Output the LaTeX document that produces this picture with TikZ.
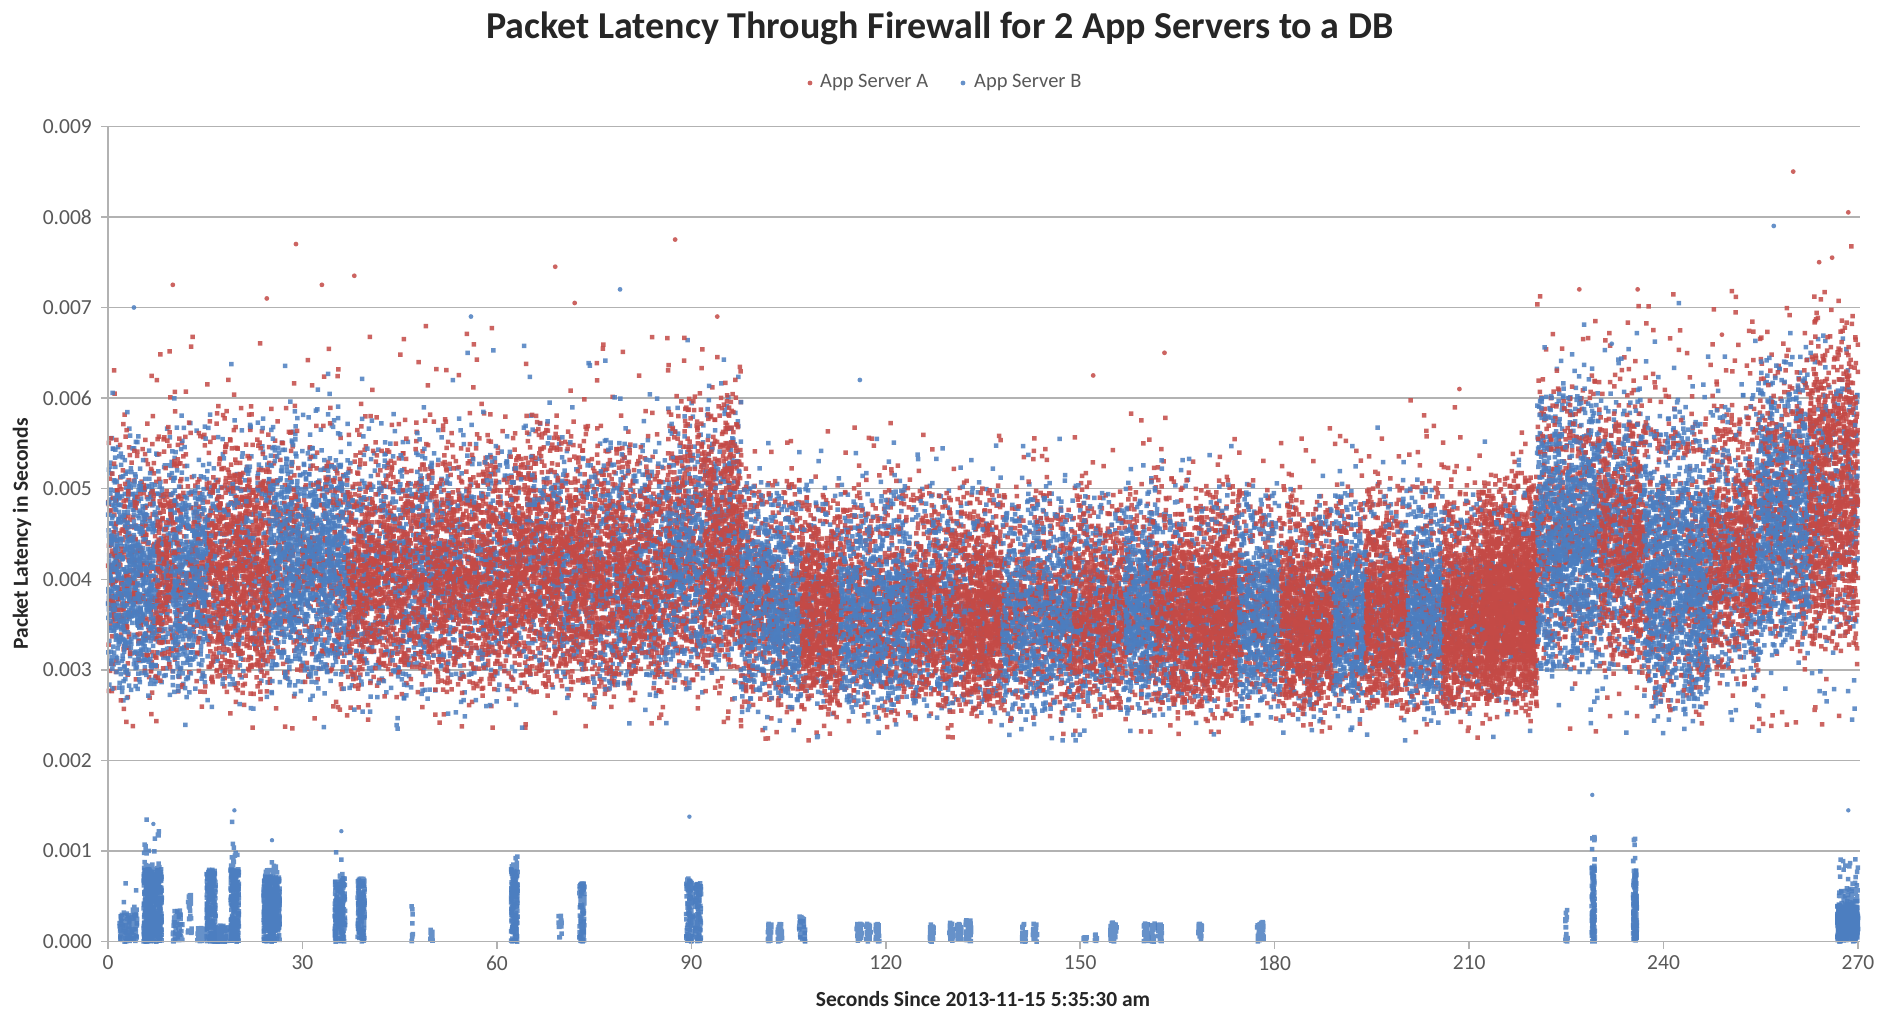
\documentclass[tikz,border=0pt]{standalone}
\usepackage{fontspec}
\setmainfont{Carlito}
\definecolor{sA}{RGB}{196,74,70}
\definecolor{sB}{RGB}{76,126,192}
\definecolor{gridc}{RGB}{178,178,178}
\definecolor{txt}{RGB}{89,89,89}
\makeatletter
\newdimen\SGx \newdimen\SGw \newdimen\SGy \newdimen\SGh
\newdimen\Px \newdimen\Py \newdimen\dotd
\newcount\SGn \newcount\SGb \newcount\SGm
\dotd=4.5pt
% \cloud{color}{t0}{t1}{vlo}{vhi}{count}{mode: 1 bell, 2 uniform, 3 decreasing, 4 triangular}
\def\cloud#1#2#3#4#5#6#7{%
  \pgfmathsetlength\SGx{108+6.4815*(#2)-2.25}%
  \pgfmathsetlength\SGw{6.4815*((#3)-(#2))}%
  \pgfmathsetlength\SGy{71.3+90.6*(#4)-2.25}%
  \pgfmathsetlength\SGh{90.6*((#5)-(#4))}%
  \SGm=#7\relax
  \begin{pgfscope}\pgfsetfillcolor{#1}\pgfsetfillopacity{0.85}%
  \SGn=#6\relax \SGb=0
  \loop\ifnum\SGn>0
    \pgfmathrnd\relax \Px=\pgfmathresult\SGw \advance\Px\SGx
    \pgfmathrnd\relax \Py=\pgfmathresult\SGh
    \ifcase\SGm\or
      \pgfmathrnd\relax \advance\Py\pgfmathresult\SGh
      \pgfmathrnd\relax \advance\Py\pgfmathresult\SGh
      \divide\Py 3
    \or
    \or
      \pgfmathrnd\relax \Py=\pgfmathresult\Py
    \or
      \pgfmathrnd\relax \advance\Py\pgfmathresult\SGh
      \divide\Py 2
    \fi
    \advance\Py\SGy
    \pgfpathrectangle{\pgfqpoint{\Px}{\Py}}{\pgfqpoint{\dotd}{\dotd}}%
    \advance\SGb1
    \ifnum\SGb>40 \pgfusepath{fill}\SGb=0 \fi
    \advance\SGn-1
  \repeat
  \ifnum\SGb>0 \pgfusepath{fill}\fi
  \end{pgfscope}}
% core = two overlapping triangular bands (soft edges)
\def\mixcore#1#2#3#4#5#6{%
  \cloud{#1}{#2}{#3}{#4+0.15}{#5-0.5}{\numexpr(#6)*2/5\relax}{4}%
  \cloud{#1}{#2}{#3}{#4}{#5+0.15}{\numexpr(#6)*2/5\relax}{4}}
\def\mix#1#2#3#4#5#6{%
  \mixcore{sB}{#1}{#2}{#3}{#4}{#6}\mixcore{sA}{#1}{#2}{#3}{#4}{#5}%
  \mixcore{sB}{#1}{#2}{#3}{#4}{#6}\mixcore{sA}{#1}{#2}{#3}{#4}{#5}}
\def\mixb#1#2#3#4#5#6{%
  \mixcore{sA}{#1}{#2}{#3}{#4}{#5}\mixcore{sB}{#1}{#2}{#3}{#4}{#6}%
  \mixcore{sA}{#1}{#2}{#3}{#4}{#5}\mixcore{sB}{#1}{#2}{#3}{#4}{#6}}
\def\lowcol#1#2#3#4{\cloud{sB}{#1}{#2}{0}{#3}{\numexpr(#4)*2\relax}{2}}
\makeatother
\begin{document}
\begin{tikzpicture}[x=1pt,y=1pt,
  gridl/.style={draw=gridc,line width=1.3pt},
  axisl/.style={draw=gridc,line width=1.5pt},
  ticklab/.style={font=\fontsize{21.5}{25}\selectfont,text=txt,inner sep=0pt},
  legtext/.style={font=\fontsize{20.5}{24}\selectfont,text=txt,inner sep=0pt,anchor=west},
  axtitle/.style={font=\fontsize{21.5}{25}\selectfont\bfseries,text=black!85,inner sep=0pt},
  odotA/.style={fill=sA,fill opacity=0.85},
  odotB/.style={fill=sB,fill opacity=0.85}]
\pgfmathsetseed{4242}
\useasboundingbox[fill=white] (0,0) rectangle (1881,1013);

% gridlines
\foreach \v in {1,...,9}
  \draw[gridl] (101,{71.3+90.6*\v}) -- (1860,{71.3+90.6*\v});

% ---------------- Region A ----------------
\mixb{0}{7.5}{2.55}{5.6}{200}{520}
\mix{7.5}{10}{2.6}{5.6}{130}{100}
\mixb{10}{15.5}{2.6}{5.6}{160}{360}
\mix{15.5}{25}{2.5}{5.8}{620}{250}
\mixb{25}{37}{2.6}{5.8}{320}{820}
\mix{37}{44}{2.55}{5.6}{400}{230}
\mix{44}{50}{2.55}{5.6}{300}{250}
\mix{50}{62}{2.55}{5.6}{700}{350}
\mix{62}{70}{2.55}{5.7}{560}{200}
\mix{70}{76}{2.55}{5.6}{380}{180}
\mix{76}{86}{2.55}{5.6}{520}{380}
\mixb{86}{92}{2.6}{5.9}{300}{300}
\mix{92}{97.7}{2.7}{6.1}{380}{220}
\cloud{sA}{0}{97.7}{4.8}{7.0}{450}{3}
\cloud{sB}{0}{97.7}{4.8}{6.8}{250}{3}
\cloud{sA}{86}{97.7}{5.0}{6.7}{80}{3}
\cloud{sA}{0}{97.7}{2.35}{2.8}{60}{2}
\cloud{sB}{0}{97.7}{2.35}{2.8}{40}{2}

% ---------------- Region B ----------------
\mixb{97.7}{102}{2.45}{5.2}{200}{260}
\mixb{102}{107}{2.35}{5.0}{150}{350}
\mix{107}{113}{2.35}{5.0}{520}{120}
\mixb{113}{124}{2.35}{5.0}{420}{620}
\mix{124}{132}{2.35}{5.0}{400}{330}
\mix{132}{138}{2.35}{5.0}{560}{120}
\mixb{138}{149}{2.35}{5.0}{420}{560}
\mix{149}{157}{2.35}{5.0}{430}{300}
\mixb{157}{161}{2.35}{5.0}{120}{300}
\mix{161}{164}{2.35}{5.0}{150}{150}
\mix{164}{174.5}{2.35}{5.0}{950}{250}
\mixb{174.5}{181}{2.35}{5.0}{200}{450}
\mix{181}{189}{2.35}{4.9}{700}{200}
\mixb{189}{194}{2.35}{5.0}{150}{400}
\mix{194}{200.5}{2.35}{5.0}{560}{150}
\mixb{200.5}{206}{2.35}{5.0}{150}{450}
\mix{206}{212}{2.35}{5.0}{620}{120}
\mix{212}{220.5}{2.4}{5.1}{1400}{80}
\cloud{sA}{97.7}{220.5}{4.5}{6.0}{450}{3}
\cloud{sB}{97.7}{220.5}{4.5}{5.8}{300}{3}
\cloud{sA}{97.7}{220.5}{2.2}{2.6}{50}{2}
\cloud{sB}{97.7}{220.5}{2.2}{2.6}{40}{2}

% ---------------- Region C ----------------
\mixb{220.5}{230}{2.75}{6.3}{300}{800}
\mix{230}{237}{2.75}{6.2}{420}{350}
\mixb{237}{247}{2.35}{5.8}{300}{800}
\mix{247}{254.5}{2.7}{5.9}{420}{300}
\mixb{254.5}{262.5}{2.9}{6.5}{300}{620}
\mix{262.5}{270}{2.9}{6.8}{620}{200}
\cloud{sA}{220.5}{270}{5.4}{7.4}{300}{3}
\cloud{sB}{220.5}{270}{5.4}{7.2}{150}{3}
\cloud{sA}{262}{270}{5.6}{7.8}{80}{3}
\cloud{sA}{220.5}{270}{2.3}{2.9}{30}{2}
\cloud{sB}{220.5}{270}{2.3}{2.9}{30}{2}

% outliers
\foreach \t/\v in {29/7.7,87.5/7.75,69/7.45,72/7.05,10/7.25,38/7.35,33/7.25,24.5/7.1,
  260/8.5,268.5/8.05,264/7.5,266/7.55,163/6.5,152/6.25,94/6.9,227/7.2,236/7.2,249/6.7,208.5/6.1}
  \fill[odotA] ({108+6.4815*\t},{71.3+90.6*\v}) circle (2.4);
\foreach \t/\v in {4/7.0,79/7.2,116/6.2,232/6.6,257/7.9,56/6.9}
  \fill[odotB] ({108+6.4815*\t},{71.3+90.6*\v}) circle (2.4);

% ---------------- low band (App Server B) ----------------
\lowcol{1.8}{4.5}{0.3}{60}
\cloud{sB}{2}{4.5}{0.3}{0.7}{10}{3}
\lowcol{5.5}{8.3}{0.8}{280}
\cloud{sB}{5.5}{8.3}{0.8}{1.35}{25}{3}
\lowcol{10}{11.5}{0.35}{30}
\lowcol{12.3}{12.9}{0.6}{12}
\lowcol{13.8}{15}{0.15}{20}
\lowcol{15.2}{16.6}{0.8}{110}
\lowcol{16.6}{18.5}{0.18}{40}
\lowcol{18.9}{20.2}{0.8}{120}
\cloud{sB}{18.9}{20.2}{0.8}{1.45}{12}{3}
\lowcol{24}{26.5}{0.72}{200}
\cloud{sB}{24}{26.2}{0.72}{1.15}{15}{3}
\lowcol{35}{36.6}{0.7}{100}
\cloud{sB}{35}{36.4}{0.7}{1.25}{6}{3}
\lowcol{38.5}{39.6}{0.7}{80}
\lowcol{46.8}{47.2}{0.4}{5}
\lowcol{49.7}{50.2}{0.15}{6}
\lowcol{62.2}{63.2}{0.8}{90}
\cloud{sB}{62.2}{63.2}{0.8}{1.12}{8}{3}
\lowcol{69.5}{70}{0.3}{10}
\lowcol{72.7}{73.5}{0.65}{50}
\lowcol{89.2}{90.2}{0.7}{60}
\lowcol{90.6}{91.5}{0.65}{55}
\lowcol{101.8}{102.4}{0.2}{15}
\lowcol{103.3}{104}{0.2}{15}
\lowcol{106.6}{107.6}{0.28}{25}
\lowcol{115.5}{116.3}{0.2}{15}
\lowcol{117}{117.7}{0.2}{15}
\lowcol{118.4}{119}{0.2}{15}
\lowcol{126.8}{127.4}{0.2}{12}
\lowcol{129.8}{130.5}{0.22}{15}
\lowcol{131}{131.7}{0.22}{15}
\lowcol{132.3}{133.2}{0.25}{18}
\lowcol{141}{141.7}{0.2}{12}
\lowcol{142.7}{143.4}{0.2}{12}
\lowcol{150.5}{151}{0.05}{4}
\lowcol{152.2}{152.6}{0.08}{4}
\lowcol{154.6}{155.6}{0.22}{18}
\lowcol{159.8}{160.5}{0.2}{12}
\lowcol{161}{161.5}{0.2}{12}
\lowcol{162}{162.6}{0.2}{12}
\lowcol{168.2}{168.8}{0.2}{12}
\lowcol{177.3}{178.3}{0.22}{18}
\lowcol{224.8}{225.2}{0.35}{8}
\lowcol{228.9}{229.4}{0.85}{60}
\cloud{sB}{228.9}{229.4}{0.85}{1.2}{6}{2}
\lowcol{235.3}{235.9}{0.8}{70}
\cloud{sB}{235.3}{235.9}{0.8}{1.2}{6}{2}
\cloud{sB}{266.8}{270}{0}{0.5}{400}{1}
\lowcol{266.8}{270}{0.3}{100}
\cloud{sB}{267}{270}{0.45}{1.05}{50}{3}
\foreach \t/\v in {89.7/1.38,229/1.62,7/1.3,19.5/1.45,268.5/1.45,36/1.22,25.3/1.12}
  \fill[odotB] ({108+6.4815*\t},{71.3+90.6*\v}) circle (2.2);

% axes
\draw[axisl] (108,71.3) -- (108,{71.3+90.6*9});
\draw[axisl] (101,71.3) -- (1860,71.3);
\foreach \t in {0,30,...,270}
  \draw[axisl] ({108+6.4815*\t},71.3) -- ({108+6.4815*\t},64);

% tick labels
\foreach \v/\l in {0/0.000,1/0.001,2/0.002,3/0.003,4/0.004,5/0.005,6/0.006,7/0.007,8/0.008,9/0.009}
  \node[ticklab,anchor=east] (yl\v) at (92,{71.3+90.6*\v}) {\l};
\foreach \t in {0,30,...,270}
  \node[ticklab] (xl\t) at ({108+6.4815*\t},50) {\t};

% titles
\node[font=\fontsize{38}{44}\selectfont\bfseries,text=black!85,inner sep=0pt] (title) at (940,985) {Packet Latency Through Firewall for 2 App Servers to a DB};
\node[axtitle] (xtitle) at (983,14) {Seconds Since 2013-11-15 5:35:30 am};
\node[axtitle,rotate=90] (ytitle) at (22,479) {Packet Latency in Seconds};

% legend
\fill[odotA] (810,930) circle (2.4);
\node[legtext] (legA) at (820,930) {App Server A};
\fill[odotB] (963,930) circle (2.4);
\node[legtext] (legB) at (974,930) {App Server B};
\end{tikzpicture}
\end{document}
